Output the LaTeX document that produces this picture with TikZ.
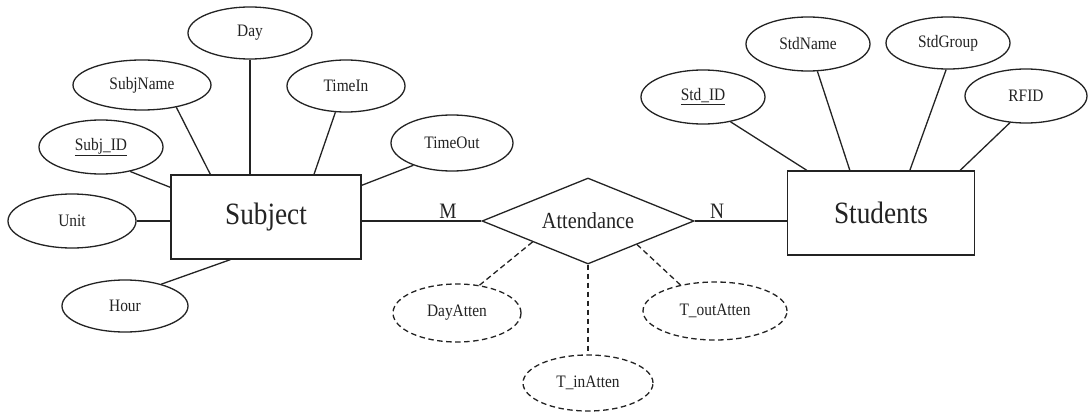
\documentclass[tikz,border=0pt]{standalone}
\usepackage{fontspec}
\setmainfont[FakeStretch=0.88]{Liberation Serif}
\usetikzlibrary{shapes.geometric,calc}
\definecolor{ink}{RGB}{35,35,35}
\begin{document}
\begin{tikzpicture}[x=1pt,y=-1pt,
  attr/.style={draw=ink, line width=1.3pt, ellipse, inner sep=0pt, text=ink, font=\fontsize{17.5}{20}\selectfont},
  dattr/.style={attr, dash pattern=on 5.5pt off 3.5pt},
  entity/.style={draw=ink, line width=1.3pt, rectangle, inner sep=0pt, text=ink, minimum height=84pt, font=\fontsize{31}{36}\selectfont},
  rel/.style={draw=ink, line width=1.3pt, diamond, aspect=2.5, inner sep=0pt, minimum width=212pt, minimum height=86pt, text=ink, font=\fontsize{23}{27}\selectfont},
  card/.style={text=ink, inner sep=0pt, font=\fontsize{22}{26}\selectfont},
  conn/.style={draw=ink, line width=1.3pt},
  dconn/.style={conn, dash pattern=on 5.5pt off 3.5pt}
]
\useasboundingbox (0,0) rectangle (1088,412);
\fill[white] (0,0) rectangle (1088,412);

% Subject side
\node[entity, minimum width=190pt] (subject) at (266,217) {Subject};
\node[attr, minimum width=124pt, minimum height=52pt] (day) at (250,33) {Day};
\node[attr, minimum width=138pt, minimum height=50pt] (subjname) at (142,85) {SubjName};
\node[attr, minimum width=118pt, minimum height=52pt] (timein) at (346,86) {TimeIn};
\node[attr, minimum width=122pt, minimum height=56pt] (timeout) at (452,143) {TimeOut};
\node[attr, minimum width=124pt, minimum height=54pt] (subjid) at (101,147) {\underline{Subj\_ID}};
\node[attr, minimum width=128pt, minimum height=54pt] (unit) at (72,221) {Unit};
\node[attr, minimum width=126pt, minimum height=52pt] (hour) at (125,306) {Hour};

% Relationship
\node[rel] (att) at (588,221) {Attendance};
\node[dattr, minimum width=128pt, minimum height=58pt] (dayatten) at (457,313) {DayAtten};
\node[dattr, minimum width=130pt, minimum height=56pt] (tin) at (588,383) {T\_inAtten};
\node[dattr, minimum width=144pt, minimum height=58pt] (tout) at (715,311) {T\_outAtten};

% Students side
\node[entity, minimum width=187pt] (students) at (881,213) {Students};
\node[attr, minimum width=124pt, minimum height=54pt] (stdid) at (703,97) {\underline{Std\_ID}};
\node[attr, minimum width=124pt, minimum height=54pt] (stdname) at (808,44) {StdName};
\node[attr, minimum width=124pt, minimum height=52pt] (stdgroup) at (948,43) {StdGroup};
\node[attr, minimum width=122pt, minimum height=54pt] (rfid) at (1026,96) {RFID};

% Subject attribute connectors
\draw[conn] (day.south) -- (day.south |- subject.north);
\draw[conn] (subjname.-33) -- ([xshift=40pt]subject.north west);
\draw[conn] (timein.-112) -- ([xshift=48pt]subject.north);
\draw[conn] (timeout.-150) -- ([yshift=-11pt]subject.north east);
\draw[conn] (subjid.-40) -- ([yshift=-13pt]subject.north west);
\draw[conn] (unit.east) -- (unit.east -| subject.west);
\draw[conn] (hour.31) -- ([xshift=60pt]subject.south west);

% Relationship connectors
\draw[conn] (att.west -| subject.east) -- (att.west);
\draw[conn] (att.east) -- (att.east -| students.west);
\node[card] (m) at (448,211) {M};
\node[card] (n) at (717,211) {N};
\draw[dconn] (dayatten.51) -- ($(att.west)!0.48!(att.south)$);
\draw[dconn] (att.south) -- (tin.north);
\draw[dconn] (tout.143) -- ($(att.south)!0.46!(att.east)$);

% Students attribute connectors
\draw[conn] (stdid.-42) -- ([xshift=20pt]students.north west);
\draw[conn] (stdname.-71) -- ([xshift=63pt]students.north west);
\draw[conn] (stdgroup.-94) -- ([xshift=123pt]students.north west);
\draw[conn] (rfid.-121) -- ([xshift=-15pt]students.north east);
\end{tikzpicture}
\end{document}
